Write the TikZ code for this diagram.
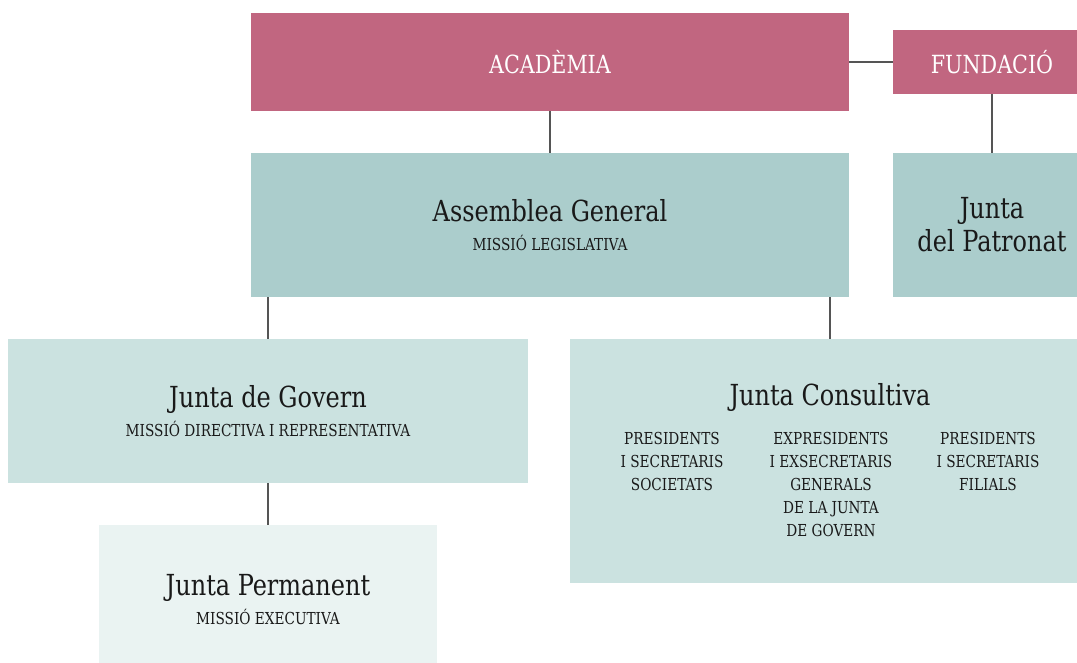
\documentclass[tikz,border=0pt]{standalone}
\usepackage{fontspec}
\setmainfont[FakeStretch=0.92]{DejaVu Serif Condensed}
\usetikzlibrary{positioning, calc}

\definecolor{rosa}{HTML}{C16680}
\definecolor{verd}{HTML}{ABCDCC}
\definecolor{verdclar}{HTML}{CBE2E0}
\definecolor{verdpal}{HTML}{EAF3F2}
\definecolor{linia}{HTML}{555555}

\newcommand{\midagran}{\fontsize{29}{29}\selectfont}
\newcommand{\midarosa}{\fontsize{25}{29}\selectfont}
\newcommand{\midapetita}{\fontsize{16.5}{19}\selectfont}
\newcommand{\midacol}{\fontsize{16.5}{23}\selectfont}

\begin{document}
\begin{tikzpicture}[x=1pt, y=-1pt]
    \tikzstyle{caixa} = [rectangle, inner sep=0pt, align=center, text=black!90, font=\midagran];
    \tikzstyle{rosa} = [caixa, fill=rosa, text=white, font=\midarosa];
    \tikzstyle{linia} = [draw=linia, line width=1.3pt];
    \useasboundingbox (0, 0) rectangle (1077, 663);

    % nivell superior
    \node[rosa, minimum width=598, minimum height=98] at (550, 62) (acad) {ACADÈMIA};
    \node[rosa, minimum width=198, minimum height=64] at (992, 62) (fund) {FUNDACIÓ};

    % segon nivell
    \node[caixa, fill=verd, minimum width=598, minimum height=144] at (550, 225) (asm) {Assemblea General\\ {\midapetita MISSIÓ LEGISLATIVA}};
    \node[caixa, fill=verd, minimum width=198, minimum height=144] at (992, 225) (patr) {Junta\\[4pt] del Patronat};

    % tercer nivell
    \node[caixa, fill=verdclar, minimum width=520, minimum height=144] at (268, 411) (gov) {Junta de Govern\\ {\midapetita MISSIÓ DIRECTIVA I REPRESENTATIVA}};
    \node[caixa, fill=verdclar, minimum width=520, minimum height=244] at (830, 461) (cons) {};
    \node[caixa] at (830, 397) (constit) {Junta Consultiva};
    \node[caixa, font=\midacol, anchor=north] at (672, 432) (col1) {PRESIDENTS\\ I SECRETARIS\\ SOCIETATS};
    \node[caixa, font=\midacol, anchor=north] at (831, 432) (col2) {EXPRESIDENTS\\ I EXSECRETARIS\\ GENERALS\\ DE LA JUNTA\\ DE GOVERN};
    \node[caixa, font=\midacol, anchor=north] at (988, 432) (col3) {PRESIDENTS\\ I SECRETARIS\\ FILIALS};

    % quart nivell
    \node[caixa, fill=verdpal, minimum width=338, minimum height=150] at (268, 600) (perm) {Junta Permanent\\ {\midapetita MISSIÓ EXECUTIVA}};

    % connexions
    \draw[linia] (acad.east) -- (fund.west);
    \draw[linia] (acad.south) -- (asm.north);
    \draw[linia] (fund.south) -- (patr.north);
    \draw[linia] (gov.north |- asm.south) -- (gov.north);
    \draw[linia] (cons.north |- asm.south) -- (cons.north);
    \draw[linia] (gov.south) -- (perm.north);
\end{tikzpicture}
\end{document}
